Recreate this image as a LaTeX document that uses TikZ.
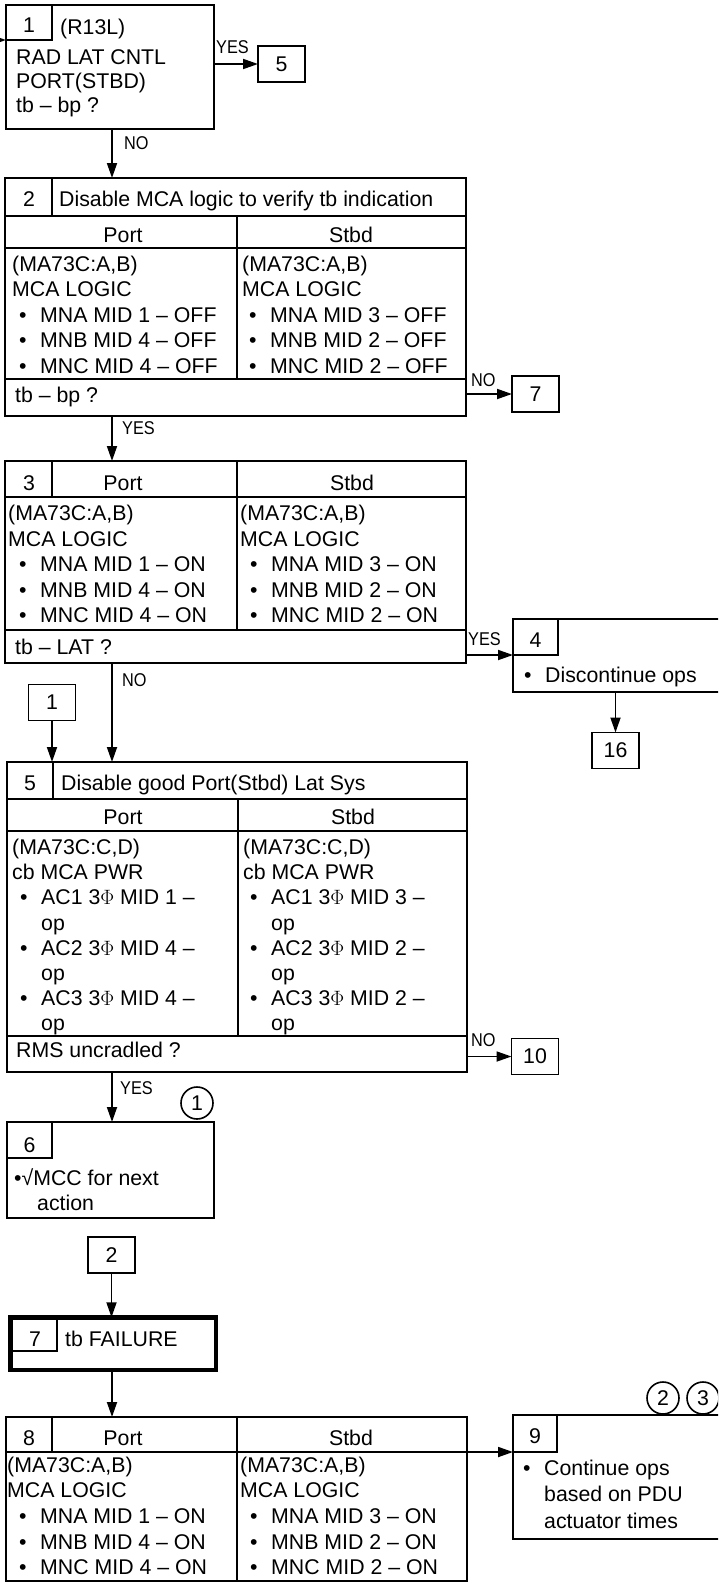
\documentclass[tikz,border=0pt]{standalone}
\usepackage{fontspec}
\setmainfont{Liberation Sans}
\newfontfamily\narrowfont[FakeStretch=0.88]{Liberation Sans}
\usetikzlibrary{arrows.meta}

\newcommand{\bul}{\makebox[21pt][l]{\textbullet}}

\tikzset{
  box/.style={draw, line width=2.6pt, inner sep=0pt, outer sep=0pt, anchor=north west},
  sz/.style 2 args={minimum width=#1pt, minimum height=#2pt},
  heavy/.style={box, line width=4.5pt},
  goto/.style={draw, line width=1.8pt, inner sep=0pt, outer sep=0pt, minimum width=47pt, minimum height=36pt},
  note/.style={circle, draw, line width=1.6pt, inner sep=0pt, minimum size=32pt},
  rule/.style={line width=1.6pt},
  arr/.style={line width=1.8pt, -{Triangle[length=15pt, width=10pt]}},
  txt/.style={anchor=base west, inner sep=0pt},
  mid/.style={anchor=base, inner sep=0pt},
  lbl/.style={anchor=west, inner sep=0pt, font=\narrowfont\fontsize{18.5}{20}\selectfont}
}

\begin{document}
\begin{tikzpicture}[x=1pt, y=-1pt, every node/.append style={font=\fontsize{21.3}{25.5}\selectfont}]

\useasboundingbox (0,0) rectangle (718,1585);
\clip (0,0) rectangle (718,1585);

% --- block 1: check ---
\node[box, sz={208}{124}] (b1) at (6,5) {};
\draw[rule] (52,5) |- (6,40);
\node[mid] (b1n) at (29,32.5) {1};
\node[txt] (b1h) at (60,34) {(R13L)};
\foreach \t [count=\i from 0] in {RAD LAT CNTL, PORT(STBD), tb – bp ?}
  \node[txt] (b1t\i) at (16,64+24.3*\i) {\t};
\node[goto] (go5) at (281.5,64) {5};

% --- block 2: disable logic ---
\node[box, sz={461}{238}] (b2) at (5,178) {};
\draw[rule] (5,216) -- (466,216);
\draw[rule] (52,178) -- (52,216);
\draw[rule] (5,248) -- (466,248);
\draw[rule] (237,216) -- (237,379);
\draw[rule] (5,379) -- (466,379);
\node[mid] (b2n) at (29,206) {2};
\node[txt] (b2h) at (59,206) {Disable MCA logic to verify tb indication};
\node[mid] (b2p) at (123,242) {Port};
\node[mid] (b2s) at (351,242) {Stbd};
\foreach \cx/\side in {12/p, 242/s} {
  \node[txt] (b2\side0) at (\cx,271) {(MA73C:A,B)};
  \node[txt] (b2\side1) at (\cx,296.5) {MCA LOGIC};
}
\foreach \ma/\mb/\mn [count=\i from 2] in {1/3/A, 4/2/B, 4/2/C} {
  \node[txt] (b2p\i) at (19,271+25.5*\i) {\bul MN\mn\ MID \ma\ – OFF};
  \node[txt] (b2s\i) at (249,271+25.5*\i) {\bul MN\mn\ MID \mb\ – OFF};
}
\node[txt] (b2q) at (15,402) {tb – bp ?};
\node[goto] (go7) at (535.5,394) {7};

% --- block 3: logic on ---
\node[box, sz={461}{202}] (b3) at (5,461) {};
\draw[rule] (5,497) -- (466,497);
\draw[rule] (52,461) -- (52,497);
\draw[rule] (237,461) -- (237,630);
\draw[rule] (5,630) -- (466,630);
\node[mid] (b3n) at (29,490) {3};
\node[mid] (b3p) at (123,490) {Port};
\node[mid] (b3s) at (352,490) {Stbd};
\foreach \cx/\side in {8/p, 240/s} {
  \node[txt] (b3\side0) at (\cx,520.5) {(MA73C:A,B)};
  \node[txt] (b3\side1) at (\cx,546) {MCA LOGIC};
}
\foreach \ma/\mb/\mn [count=\i from 2] in {1/3/A, 4/2/B, 4/2/C} {
  \node[txt] (b3p\i) at (19,520.5+25.5*\i) {\bul MN\mn\ MID \ma\ – ON};
  \node[txt] (b3s\i) at (250,520.5+25.5*\i) {\bul MN\mn\ MID \mb\ – ON};
}
\node[txt] (b3q) at (15,654) {tb – LAT ?};

% --- block 4 ---
\node[box, sz={247}{73}] (b4) at (513,619) {};
\coordinate (b4cell) at (513,655);
\draw[rule] (b4cell) -| (558,619);
\node[mid] (b4n) at (535.5,647.5) {4};
\node[txt] (b4t) at (524,682.5) {\bul Discontinue ops};
\node[goto] (go16) at (615.5,750.5) {16};

\node[goto] (from1) at (52,702.5) {1};

% --- block 5: disable good side ---
\node[box, sz={460}{310}] (b5) at (7,762) {};
\draw[rule] (7,799) -- (467,799);
\draw[rule] (53,762) -- (53,799);
\draw[rule] (7,831) -- (467,831);
\draw[rule] (238,799) -- (238,1036);
\draw[rule] (7,1036) -- (467,1036);
\node[mid] (b5n) at (30,790.5) {5};
\node[txt] (b5h) at (61,790.5) {Disable good Port(Stbd) Lat Sys};
\node[mid] (b5p) at (123,824.5) {Port};
\node[mid] (b5s) at (353,824.5) {Stbd};
\foreach \cx/\side in {12/p, 243/s} {
  \node[txt] (b5\side0) at (\cx,854.5) {(MA73C:C,D)};
  \node[txt] (b5\side1) at (\cx,879.7) {cb MCA PWR};
}
\foreach \ma/\mb [count=\k] in {1/3, 4/2, 4/2} {
  \node[txt] (b5pa\k) at (20,854.5+50.4*\k) {\bul AC\k\ 3$\Phi$ MID \ma\ –};
  \node[txt] (b5po\k) at (41,879.7+50.4*\k) {op};
  \node[txt] (b5sa\k) at (250,854.5+50.4*\k) {\bul AC\k\ 3$\Phi$ MID \mb\ –};
  \node[txt] (b5so\k) at (271,879.7+50.4*\k) {op};
}
\node[txt] (b5q) at (16,1057.5) {RMS uncradled ?};
\node[goto] (go10) at (535,1056.5) {10};

% --- block 6 ---
\node[box, sz={207}{96}] (b6) at (7,1122) {};
\draw[rule] (52,1122) |- (7,1158);
\node[mid] (b6n) at (29.5,1152.5) {6};
\node[txt] (b6t0) at (14,1185.5) {\textbullet√MCC for next};
\node[txt] (b6t1) at (37,1210.5) {action};
\node[note] (n1) at (197,1103) {1};

\node[goto] (from2) at (111.5,1255) {2};

% --- block 7: failure ---
\node[heavy, sz={205.5}{52.5}] (b7) at (10.25,1317.25) {};
\draw[rule] (57,1317) |- (12.5,1351);
\node[mid] (b7n) at (35,1346.5) {7};
\node[txt] (b7h) at (65,1346.5) {tb FAILURE};

% --- block 8: logic on ---
\node[box, sz={461}{164}] (b8) at (6,1417) {};
\draw[rule] (6,1452) -- (467,1452);
\draw[rule] (52,1417) -- (52,1452);
\draw[rule] (237,1417) -- (237,1581);
\node[mid] (b8n) at (29,1445) {8};
\node[mid] (b8p) at (123,1445) {Port};
\node[mid] (b8s) at (351,1445) {Stbd};
\foreach \cx/\side in {7/p, 240/s} {
  \node[txt] (b8\side0) at (\cx,1472) {(MA73C:A,B)};
  \node[txt] (b8\side1) at (\cx,1497.7) {MCA LOGIC};
}
\foreach \ma/\mb/\mn [count=\i from 2] in {1/3/A, 4/2/B, 4/2/C} {
  \node[txt] (b8p\i) at (19,1472+25.7*\i) {\bul MN\mn\ MID \ma\ – ON};
  \node[txt] (b8s\i) at (250,1472+25.7*\i) {\bul MN\mn\ MID \mb\ – ON};
}

% --- block 9 ---
\node[box, sz={247}{124}] (b9) at (513,1415) {};
\coordinate (b9cell) at (513,1452);
\draw[rule] (b9cell) -| (557,1415);
\node[mid] (b9n) at (535,1443.5) {9};
\node[txt] (b9t0) at (523,1475) {\bul Continue ops};
\node[txt] (b9t1) at (544,1501.5) {based on PDU};
\node[txt] (b9t2) at (544,1528) {actuator times};
\node[note] (n2) at (663,1398) {2};
\node[note] (n3) at (703,1398) {3};

% --- connectors ---
\coordinate (entry) at (-20,40);
\coordinate (spine) at (112,0);
\draw[arr] (entry) -- (entry -| b1.west);
\draw[arr] (b1.east |- go5) -- (go5.west);
\draw[arr] (b1.south -| spine) -- (b2.north -| spine);
\draw[arr] (b2.east |- go7) -- (go7.west);
\draw[arr] (b2.south -| spine) -- (b3.north -| spine);
\draw[arr] (b3.east |- b4cell) -- (b4cell);
\draw[arr] (b4.south -| go16) -- (go16.north);
\draw[arr] (b3.south -| spine) -- (b5.north -| spine);
\draw[arr] (from1.south) -- (from1 |- b5.north);
\draw[arr] (b5.east |- go10) -- (go10.west);
\draw[arr] (b5.south -| spine) -- (b6.north -| spine);
\draw[arr] (from2.south) -- (from2 |- b7.north);
\draw[arr] (b7.south -| spine) -- (b8.north -| spine);
\draw[arr] (b8.east |- b9cell) -- (b9cell);

% --- branch labels ---
\node[lbl] (yes1) at (216,47) {YES};
\node[lbl] (no1) at (124,143) {NO};
\node[lbl] (no2) at (471,380) {NO};
\node[lbl] (yes2) at (122,428) {YES};
\node[lbl] (yes3) at (468,639) {YES};
\node[lbl] (no3) at (122,680) {NO};
\node[lbl] (no5) at (471,1040) {NO};
\node[lbl] (yes5) at (120,1088) {YES};

\end{tikzpicture}
\end{document}
